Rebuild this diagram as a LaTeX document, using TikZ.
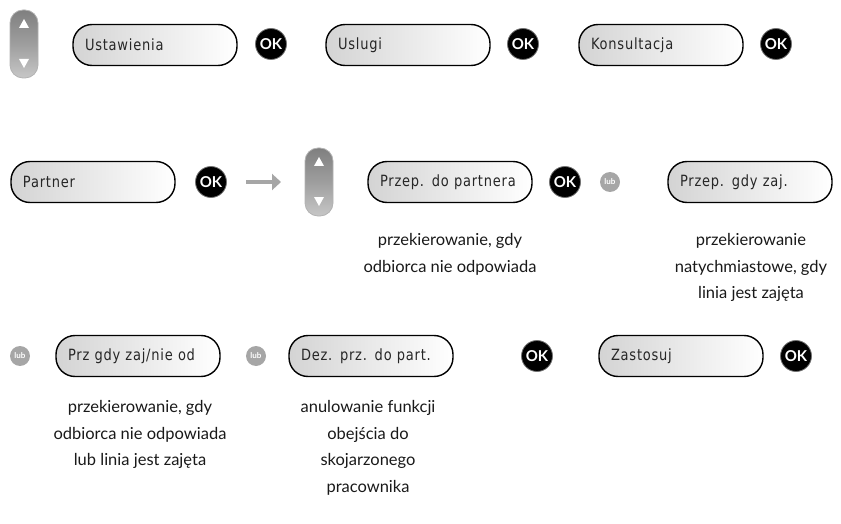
\documentclass[tikz,border=0pt]{standalone}
\usepackage{fontspec}
\setmainfont{Lato}
\newfontfamily\lcdfont[FakeStretch=0.84,LetterSpace=5]{DejaVu Sans}
\usetikzlibrary{arrows.meta,shadings}
\begin{document}
\begin{tikzpicture}[x=1pt,y=-1pt,
  pill/.style={draw=black,line width=1.4pt,rounded corners=19pt,
    left color=black!17,right color=white,minimum width=164pt,minimum height=41pt,
    text width=140pt,align=left,inner sep=0pt,
    font=\lcdfont\fontsize{15.5}{15.5}\selectfont,text=black!85},
  okbtn/.style={circle,fill=black,draw=black!55,line width=0.8pt,minimum size=31pt,inner sep=0pt,
    text=white,font=\bfseries\fontsize{15}{15}\selectfont},
  lubbtn/.style={circle,fill=black!35,minimum size=20pt,inner sep=0pt,
    text=white,font=\bfseries\fontsize{8}{8}\selectfont},
  captxt/.style={align=center,font=\fontsize{16.5}{26.5}\selectfont,text=black!90,anchor=north},
  navkey/.style={rounded corners=13pt,draw=black!30,line width=0.8pt,
    top color=black!50,bottom color=black!22,middle color=black!38,
    minimum width=28pt,minimum height=68pt,inner sep=0pt}
]
\useasboundingbox (0,0) rectangle (841,524);

\tikzset{navpic/.pic={
  \node[navkey] (-body) at (0,0) {};
  \fill[white] (-5,-16) -- (5,-16) -- (0,-25) -- cycle;
  \fill[white] (-5,15) -- (5,15) -- (0,24) -- cycle;
}}

% Row 1
\pic (nav1) at (24,44) {navpic};
\node[pill] (b1) at (155,45) {Ustawienia};
\node[okbtn] (ok1) at (271,44) {OK};
\node[pill] (b2) at (408,45) {Uslugi};
\node[okbtn] (ok2) at (523,44) {OK};
\node[pill] (b3) at (661,45) {Konsultacja};
\node[okbtn] (ok3) at (776,44) {OK};

% Row 2
\node[pill] (b4) at (93,182) {Partner};
\node[okbtn] (ok4) at (211,182) {OK};
\coordinate (arrS) at (246,182);
\coordinate (arrE) at (281,182);
\draw[black!35,line width=4.5pt,-{Triangle[length=9pt,width=16pt]}] (arrS) -- (arrE);
\pic (nav2) at (319,182) {navpic};
\node[pill] (b5) at (450,182) {Przep. do partnera};
\node[okbtn] (ok5) at (565,182) {OK};
\node[lubbtn] (lub1) at (610,182) {lub};
\node[pill] (b6) at (750,182) {Przep. gdy zaj.};

\node[captxt] (c1) at (450,230) {przekierowanie, gdy\\odbiorca nie odpowiada};
\node[captxt] (c2) at (751,230) {przekierowanie\\natychmiastowe, gdy\\linia jest zajęta};

% Row 3
\node[lubbtn] (lub2) at (20,356) {lub};
\node[pill] (b7) at (138,356) {Prz gdy zaj/nie od};
\node[lubbtn] (lub3) at (256,356) {lub};
\node[pill] (b8) at (371,356) {Dez. prz. do part.};
\node[okbtn] (ok6) at (537,356) {OK};
\node[pill] (b9) at (681,356) {Zastosuj};
\node[okbtn] (ok7) at (796,356) {OK};

\node[captxt] (c3) at (140,397) {przekierowanie, gdy\\odbiorca nie odpowiada\\lub linia jest zajęta};
\node[captxt] (c4) at (368,397) {anulowanie funkcji\\obejścia do\\skojarzonego\\pracownika};
\end{tikzpicture}
\end{document}
